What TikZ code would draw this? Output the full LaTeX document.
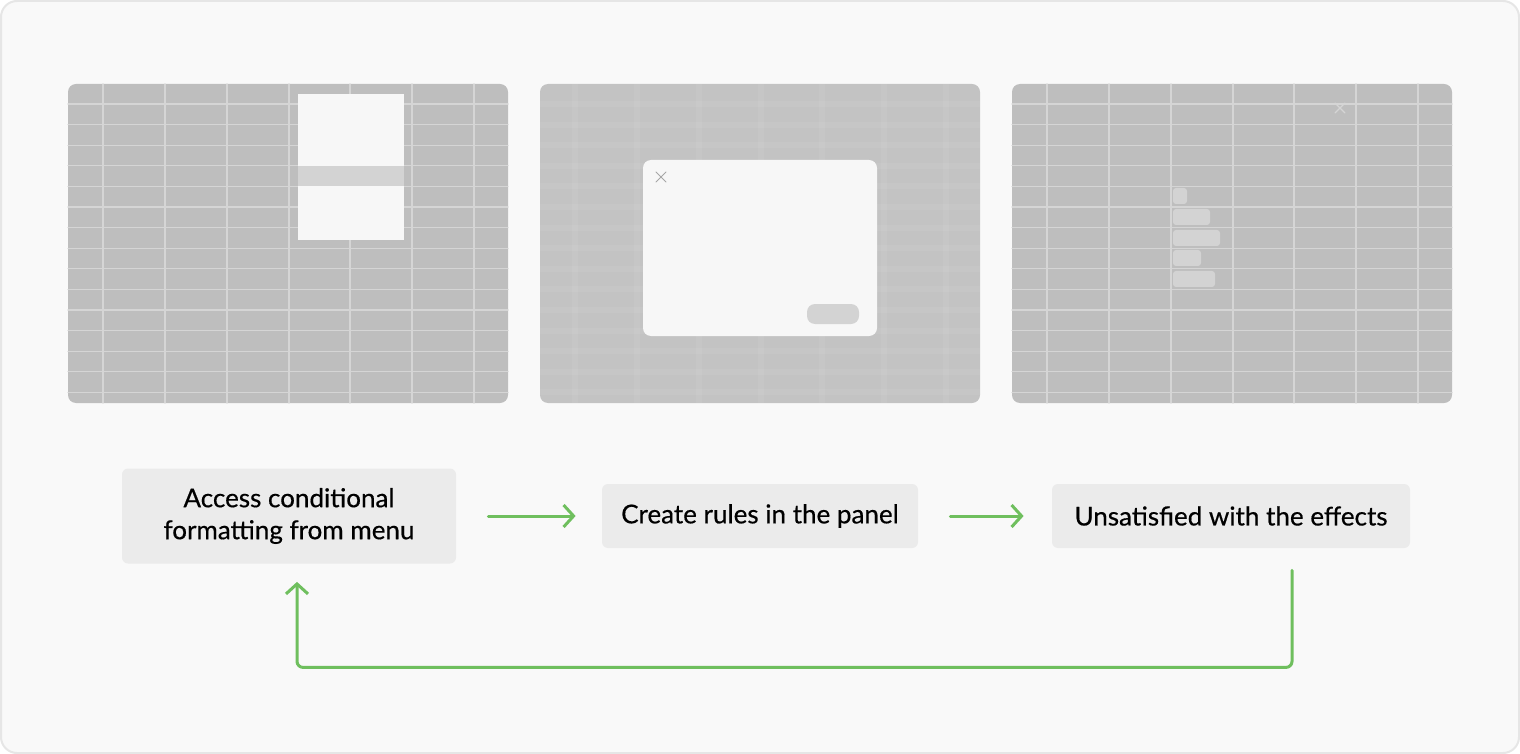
\documentclass[tikz,border=0pt]{standalone}
\usepackage{fontspec}
\setmainfont{Lato}
\newfontfamily\stepfont{Lato}[FakeBold=0.5]
\usetikzlibrary{calc,arrows.meta}
\definecolor{bgc}{HTML}{F9F9F9}
\definecolor{edgec}{HTML}{E6E6E6}
\definecolor{sheet}{HTML}{BEBEBE}
\definecolor{sheetb}{HTML}{C3C3C3}
\definecolor{gridc}{HTML}{D5D5D5}
\definecolor{paper}{HTML}{F7F7F7}
\definecolor{hilite}{HTML}{D3D3D3}
\definecolor{boxc}{HTML}{EBEBEB}
\definecolor{flowc}{HTML}{6FBF5E}
\tikzset{
  stepbox/.style={fill=boxc,rounded corners=3pt,align=center,inner sep=0pt,
    font=\stepfont\fontsize{13}{16}\selectfont},
  flow/.style={draw=flowc,line width=1.5pt,
    -{Straight Barb[length=5pt,width=11pt,line width=1.5pt]}}
}
\begin{document}
\begin{tikzpicture}[x=0.5pt,y=-0.5pt,line join=round,line cap=round]
  \useasboundingbox (0,0) rectangle (1520,754);
  \draw[fill=bgc,draw=edgec,line width=1pt,rounded corners=8pt] (1,1) rectangle (1519,753);
  % the three sheets
  \foreach \x/\c in {68/sheet,540/sheetb,1012/sheet}
    \fill[\c,rounded corners=4pt] (\x,84) rectangle ++(440,319);
  \foreach \x in {68,1012}{
    \foreach \i in {35,97,159,221,282,344,406}
      \draw[gridc,line width=.6pt] (\x+\i,84) -- ++(0,319);
    \foreach \k in {0,...,14}
      \draw[gridc,line width=.6pt] (\x,104+20.6*\k) -- ++(440,0);
  }
  \foreach \i in {35,97,159,221,282,344,406}
    \draw[white,opacity=.06,line width=3pt] (540+\i,84) -- ++(0,319);
  \foreach \k in {0,...,14}
    \draw[white,opacity=.06,line width=3pt] (540,104+20.6*\k) -- ++(440,0);
  % menu
  \fill[paper] (298,94) rectangle (404,240);
  \fill[hilite] (298,166) rectangle (404,186);
  % dialog
  \fill[paper,rounded corners=4pt] (643,160) rectangle (877,336);
  \draw[gray!70,line width=.5pt] (656,172) -- (666,182) (656,182) -- (666,172);
  \fill[hilite,rounded corners=4pt] (807,304) rectangle (859,324);
  % data bars
  \draw[gridc,line width=.6pt] (1335,103) -- (1345,113) (1335,113) -- (1345,103);
  \foreach \y/\w in {188/14,209/37,230/47,250/28,271/42}
    \fill[hilite,rounded corners=1.5pt] (1173,\y) rectangle ++(\w,16);
  % steps
  \node[stepbox,minimum width=167pt,minimum height=47.5pt] (access) at (289,516)
    {Access conditional\\formatting from menu};
  \node[stepbox,minimum width=158pt,minimum height=32pt] (rules) at (760,516)
    {Create rules in the panel};
  \node[stepbox,minimum width=179pt,minimum height=32pt] (unsat) at (1231,516)
    {Unsatisfied with the effects};
  \draw[flow,shorten <=16pt,shorten >=13pt] (access) -- (rules);
  \draw[flow,shorten <=16pt,shorten >=14pt] (rules) -- (unsat);
  \draw[flow,rounded corners=3pt] ($(unsat.south)+(61,22)$) -- ++(0,97)
    -| ($(access.south)+(8,18)$);
\end{tikzpicture}
\end{document}
